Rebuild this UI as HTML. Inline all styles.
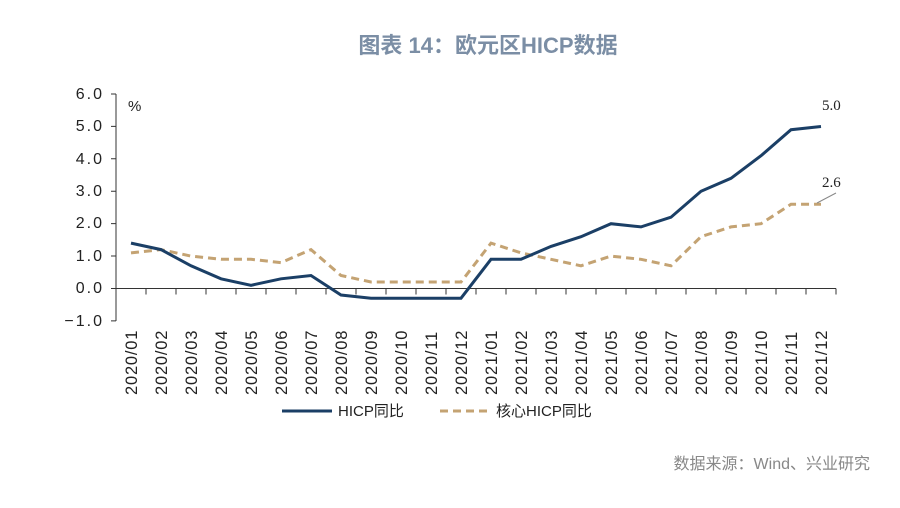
<!DOCTYPE html>
<html><head><meta charset="utf-8"><style>
body{margin:0;background:#fff;}
svg text{font-family:"Liberation Sans","Noto Sans CJK SC",sans-serif;}
</style></head><body>
<svg width="900" height="503" xmlns="http://www.w3.org/2000/svg">
<text x="488" y="53" text-anchor="middle" font-size="22" font-weight="bold" fill="#7b8ea5">图表 14：欧元区HICP数据</text>
<g font-size="16" fill="#222" text-anchor="end" letter-spacing="2">
<text x="104" y="99">6.0</text><text x="104" y="131">5.0</text><text x="104" y="164">4.0</text>
<text x="104" y="196">3.0</text><text x="104" y="228">2.0</text><text x="104" y="261">1.0</text>
<text x="104" y="293">0.0</text><text x="104" y="326">−1.0</text>
</g>
<text x="128" y="111" font-size="15" fill="#222">%</text>
<g stroke="#333" stroke-width="1">
<line x1="116" y1="94" x2="116" y2="321"/>
<line x1="116" y1="288.5" x2="836" y2="288.5"/>
<path d="M111 94H116M111 126.4H116M111 158.8H116M111 191.2H116M111 223.6H116M111 256H116M111 288.5H116M111 320.9H116"/>
<path d="M146 288.5v6M176 288.5v6M206 288.5v6M236 288.5v6M266 288.5v6M296 288.5v6M326 288.5v6M356 288.5v6M386 288.5v6M416 288.5v6M446 288.5v6M476 288.5v6M506 288.5v6M536 288.5v6M566 288.5v6M596 288.5v6M626 288.5v6M656 288.5v6M686 288.5v6M716 288.5v6M746 288.5v6M776 288.5v6M806 288.5v6M836 288.5v6"/>
</g>
<g font-size="16.5" fill="#222" id="xl"></g>
<polyline fill="none" stroke="#c4a373" stroke-width="3" stroke-dasharray="8,5" id="core"/>
<polyline fill="none" stroke="#1b3f66" stroke-width="3" id="hicp"/>
<text x="822" y="110" font-size="15" fill="#222" style="font-family:'Liberation Serif',serif">5.0</text>
<text x="822" y="187" font-size="15" fill="#222" style="font-family:'Liberation Serif',serif">2.6</text>
<line x1="817" y1="203" x2="836" y2="193" stroke="#888" stroke-width="1"/>
<line x1="282" y1="411" x2="332" y2="411" stroke="#1b3f66" stroke-width="3"/>
<text x="338" y="416" font-size="15" fill="#222">HICP同比</text>
<line x1="440" y1="411" x2="490" y2="411" stroke="#c4a373" stroke-width="3" stroke-dasharray="8,5"/>
<text x="496" y="416" font-size="15" fill="#222">核心HICP同比</text>
<text x="870" y="469" text-anchor="end" font-size="16" fill="#888">数据来源：Wind、兴业研究</text>
</svg>
<script>
var h=[1.4,1.2,0.7,0.3,0.1,0.3,0.4,-0.2,-0.3,-0.3,-0.3,-0.3,0.9,0.9,1.3,1.6,2.0,1.9,2.2,3.0,3.4,4.1,4.9,5.0];
var c=[1.1,1.2,1.0,0.9,0.9,0.8,1.2,0.4,0.2,0.2,0.2,0.2,1.4,1.1,0.9,0.7,1.0,0.9,0.7,1.6,1.9,2.0,2.6,2.6];
function pts(a){return a.map(function(v,i){return (131+30*i)+","+(288.5-32.4*v).toFixed(1)}).join(" ")}
document.getElementById("hicp").setAttribute("points",pts(h));
document.getElementById("core").setAttribute("points",pts(c));
var g=document.getElementById("xl"),s="";
for(var i=0;i<24;i++){var y=i<12?2020:2021,m=(i%12)+1;var lab=y+"/"+(m<10?"0"+m:m);var x=131+30*i+6;
s+='<text transform="translate('+x+',395) rotate(-90)" letter-spacing="0.8">'+lab+'</text>';}
g.innerHTML=s;
</script>
</body></html>
